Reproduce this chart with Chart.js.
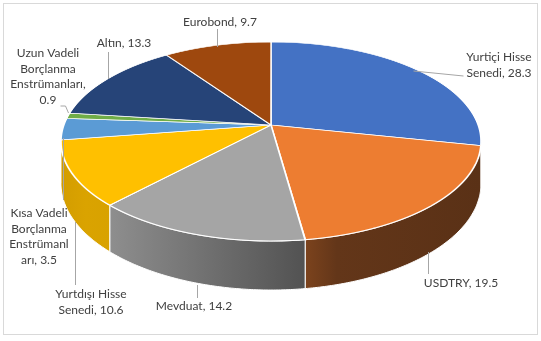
<!DOCTYPE html>
<html><head><meta charset="utf-8">
<script src="https://cdn.jsdelivr.net/npm/chart.js@4.4.1/dist/chart.umd.min.js"></script>
<style>html,body{margin:0;padding:0;background:#fff;overflow:hidden}#wrap{width:541px;height:341px;position:relative}</style>
</head><body><div id="wrap"><canvas id="c" width="541" height="341"></canvas></div>
<script>
// ---- data ----
const categories = ["Yurtiçi Hisse Senedi","USDTRY","Mevduat","Yurtdışı Hisse Senedi","Kısa Vadeli Borçlanma Enstrümanları","Uzun Vadeli Borçlanma Enstrümanları","Altın","Eurobond"];
const values = [28.3,19.5,14.2,10.6,3.5,0.9,13.3,9.7];

// ---- styles ----
const topColors = ["#4472C4","#ED7D31","#A5A5A5","#FFC000","#5B9BD5","#70AD47","#264478","#9E480E"];
const sideStops = [
  [[0,"#2F5597"],[1,"#2F5597"]],
  [[0,"#7C431D"],[0.18,"#633619"],[1,"#5A3116"]],
  [[0,"#8E8E8E"],[1,"#525252"]],
  [[0,"#D39D00"],[0.5,"#DAA300"],[1,"#D8A200"]],
  [[0,"#3F75A6"],[1,"#3F75A6"]],
  [[0,"#4E7A32"],[1,"#4E7A32"]],
  [[0,"#1A3054"],[1,"#1A3054"]],
  [[0,"#6E320A"],[1,"#6E320A"]]
];
const labelLayout = [
  {x:499,y:57,maxW:85,leader:[[463,76],[413,71]]},
  {x:461,y:283,maxW:130,leader:[[428,252],[428,274]]},
  {x:194,y:306,maxW:130,leader:[[197,285],[197,298]]},
  {x:91,y:294,maxW:95,leader:[[75,222],[75,285]]},
  {x:39,y:213,maxW:63,leader:[[63,138],[63,200]]},
  {x:48,y:53,maxW:85,leader:[[60,106],[65,106],[68,113]]},
  {x:124,y:43,maxW:130,leader:[[108,52],[108,79]]},
  {x:220,y:22,maxW:130,leader:[[217,29],[217,47]]}
];
// perspective of the pie plane: screenY = (a*t + b)/(1 + c*t), screenX = cx + S*u/(1 + c*t)
const GEO = {cx:271, a:76.04, b:125, c:-0.1658, S:207.1, D0:40.9};
const FONT = "12px Lato";
const LINE_H = 15.7;

function wrap(ctx, text, maxW){
  const words = text.split(" ");
  const lines = [];
  let cur = "";
  for (const w of words){
    const t = cur ? cur + " " + w : w;
    if (ctx.measureText(t).width <= maxW){ cur = t; continue; }
    if (cur) { lines.push(cur); cur = ""; }
    if (ctx.measureText(w).width <= maxW){ cur = w; continue; }
    let piece = "";
    for (const ch of w){
      if (ctx.measureText(piece + ch).width > maxW && piece){ lines.push(piece); piece = ch; }
      else piece += ch;
    }
    cur = piece;
  }
  if (cur) lines.push(cur);
  return lines;
}

const projY = t => (GEO.a * t + GEO.b) / (1 + GEO.c * t);
const invY = y => (y - GEO.b) / (GEO.a - GEO.c * y);
const projPt = (th) => {
  const u = Math.cos(th), t = Math.sin(th), d = 1 + GEO.c * t;
  return [GEO.cx + GEO.S * u / d, projY(t), GEO.D0 / d];
};

const pie3d = {
  id: 'pie3d',
  beforeDatasetDraw(chart, args){
    const ctx = chart.ctx;
    const meta = args.meta;
    const arcs = meta.data;
    const x0 = arcs[0].x, y0 = arcs[0].y, R = arcs[0].outerRadius;
    const thA = Math.asin(-GEO.c), thB = Math.PI - thA;
    // side walls (visible front part only)
    arcs.forEach((a, i) => {
      const s = Math.max(a.startAngle, thA), e = Math.min(a.endAngle, thB);
      if (e <= s) return;
      const n = Math.max(4, Math.ceil((e - s) / 0.01));
      const top = [], bot = [];
      for (let k = 0; k <= n; k++){
        const p = projPt(s + (e - s) * k / n);
        top.push([p[0], p[1]]); bot.push([p[0], p[1] + p[2]]);
      }
      ctx.save();
      ctx.beginPath();
      top.forEach(([x, y], k) => k ? ctx.lineTo(x, y) : ctx.moveTo(x, y));
      for (let k = bot.length - 1; k >= 0; k--) ctx.lineTo(bot[k][0], bot[k][1]);
      ctx.closePath();
      const xs = top[0][0], xe = top[top.length - 1][0];
      const g = ctx.createLinearGradient(Math.min(xs, xe), 0, Math.max(xs, xe) + 0.01, 0);
      sideStops[i].forEach(([p, c]) => g.addColorStop(p, c));
      ctx.fillStyle = g;
      ctx.fill();
      ctx.strokeStyle = "#ffffff";
      ctx.lineWidth = 1;
      ctx.stroke();
      ctx.restore();
    });
    // top face: drawn by the library, row by row through the perspective map
    const yStart = Math.floor(projY(-1)) - 2, yEnd = Math.ceil(projY(1)) + 2;
    for (let yr = yStart; yr < yEnd; yr++){
      const t1 = invY(yr), t2 = invY(yr + 1), tm = (t1 + t2) / 2;
      const sx = GEO.S / (R * (1 + GEO.c * tm));
      const sy = 1 / ((t2 - t1) * R);
      ctx.save();
      ctx.beginPath();
      ctx.rect(0, yr, chart.width, 1);
      ctx.clip();
      ctx.translate(GEO.cx, yr);
      ctx.scale(sx, sy);
      ctx.translate(-x0, -(y0 + t1 * R));
      meta.controller.draw();
      ctx.restore();
    }
    return false;
  },
  afterDraw(chart){
    const ctx = chart.ctx;
    ctx.save();
    ctx.strokeStyle = "#D9D9D9";
    ctx.lineWidth = 1;
    ctx.strokeRect(3.5, 3.5, 534, 331);
    ctx.font = FONT;
    ctx.textAlign = "center";
    ctx.textBaseline = "middle";
    categories.forEach((cat, i) => {
      const L = labelLayout[i];
      ctx.strokeStyle = "#A6A6A6";
      ctx.lineWidth = 1;
      ctx.beginPath();
      L.leader.forEach(([x, y], k) => k ? ctx.lineTo(x + 0.5, y) : ctx.moveTo(x + 0.5, y));
      ctx.stroke();
      const lines = wrap(ctx, cat + ", " + values[i], L.maxW);
      ctx.fillStyle = "#404040";
      lines.forEach((ln, k) => ctx.fillText(ln, L.x, L.y + k * LINE_H));
    });
    ctx.restore();
  }
};

new Chart(document.getElementById('c'), {
  type: 'pie',
  data: {
    labels: categories,
    datasets: [{
      data: values,
      backgroundColor: topColors,
      borderColor: "#ffffff",
      borderWidth: 1.3
    }]
  },
  options: {
    responsive: false,
    animation: false,
    events: [],
    devicePixelRatio: 1,
    plugins: { legend: { display: false }, tooltip: { enabled: false } }
  },
  plugins: [pie3d]
});
</script>
</body></html>
